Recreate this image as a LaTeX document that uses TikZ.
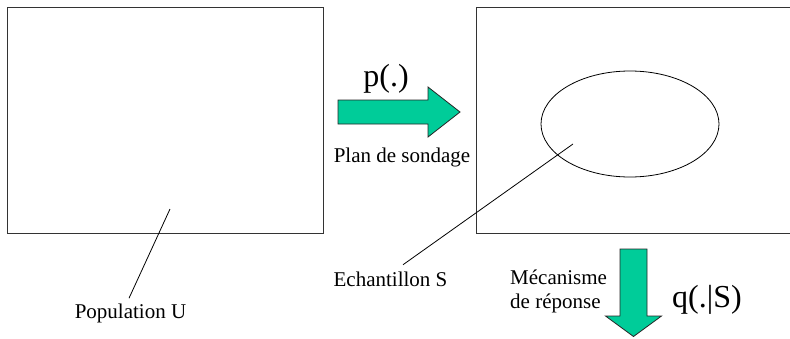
\documentclass[tikz,border=0pt]{standalone}
\usepackage{fontspec}
\setmainfont{LiberationSerif}[Extension=.ttf, UprightFont=*-Regular, BoldFont=*-Bold, ItalicFont=*-Italic, BoldItalicFont=*-BoldItalic]
\usetikzlibrary{shapes.geometric}
\definecolor{arrowgreen}{RGB}{0,204,153}
\begin{document}
\begin{tikzpicture}[x=1pt,y=-1pt,
  lbl/.style={font=\fontsize{21}{24}\selectfont, inner sep=0pt, anchor=base},
  lblw/.style={lbl, anchor=base west},
  big/.style={font=\fontsize{32}{36}\selectfont, inner sep=0pt, anchor=base},
  frame/.style={draw=black!80, line width=1pt, rectangle, inner sep=0pt, anchor=north west},
  blockarrow/.style={fill=arrowgreen, draw=black!85, line width=0.8pt, line join=miter},
  leader/.style={draw=black, line width=0.8pt}]
\useasboundingbox (0,0) rectangle (790,338);
% boxes
\node[frame, minimum width=316pt, minimum height=226pt] (U) at (7,7) {};
\node[frame, minimum width=330pt, minimum height=226pt] (Sbox) at (476,7) {};
\node[draw=black, line width=0.8pt, ellipse, inner sep=0pt, minimum width=178pt, minimum height=106pt] (S) at (630,124) {};
% labels
\node[big] (p) at (386,86) {p(.)};
\node[lbl] (plan) at (402,162) {Plan de sondage};
\node[lbl] (popU) at (130.5,318) {Population U};
\node[lbl] (echS) at (390.5,286) {Echantillon S};
\node[lblw] (mec1) at (510,284) {Mécanisme};
\node[lblw] (mec2) at (510,308) {de réponse};
\node[big] (q) at (707,307) {q(.|S)};
% leaders
\coordinate (inU) at (170,209);
\coordinate (inS) at (573,144);
\draw[leader] (inU) -- ([xshift=-1.5pt,yshift=5pt]popU.north);
\draw[leader] (inS) -- ([xshift=12.5pt,yshift=6.5pt]echS.north);
% block arrows
\path[blockarrow] (338,100) -- (428,100) -- (428,87) -- (460,112) -- (428,137) -- (428,124) -- (338,124) -- cycle;
\path[blockarrow] (620,249) -- (647,249) -- (647,316) -- (661.5,316) -- (633.5,336.5) -- (605.5,316) -- (620,316) -- cycle;
\end{tikzpicture}
\end{document}
